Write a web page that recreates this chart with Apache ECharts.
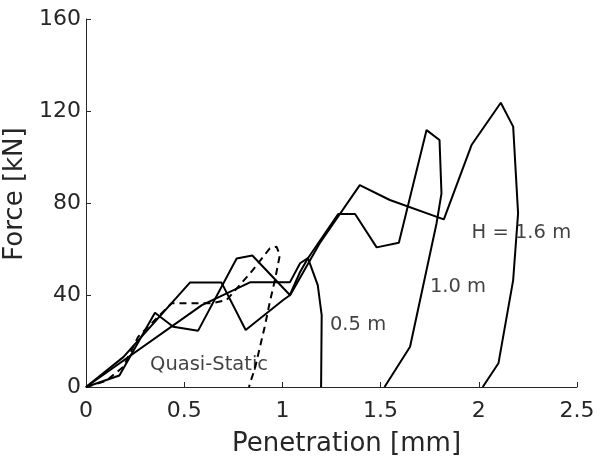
<!DOCTYPE html>
<html>
<head>
<meta charset="utf-8">
<script src="https://cdn.jsdelivr.net/npm/echarts@6/dist/echarts.min.js"></script>
<style>html,body{margin:0;padding:0;background:#fff;}#c{width:601px;height:459px;}</style>
</head>
<body>
<div id="c"></div>
<script>
// X ticks / Y ticks
const xTicks = [0, 0.5, 1, 1.5, 2, 2.5];
const yTicks = [0, 40, 80, 120, 160];

// Quasi-static (dashed)
const xQS = [0, 0.1, 0.19, 0.266, 0.436, 0.64, 0.716, 0.85, 0.936, 0.97, 0.987, 0.962, 0.936, 0.91, 0.894, 0.86, 0.835, 0.83];
const yQS = [0, 2.5, 8.8, 21.9, 36.4, 36.4, 37.8, 50.9, 60.3, 61, 57.4, 46.5, 37, 26.2, 20.4, 8, 1.6, 0];

// H = 0.5 m
const x05 = [0, 0.59, 0.835, 1.038, 1.09, 1.13, 1.18, 1.2, 1.197];
const y05 = [0, 35.6, 45.5, 45.5, 53.8, 56, 44.3, 31.3, 0];

// H = 1.0 m
const x10 = [0, 0.17, 0.351, 0.444, 0.571, 0.767, 0.847, 1.038, 1.09, 1.13, 1.284, 1.37, 1.48, 1.593, 1.734, 1.80, 1.81, 1.785, 1.65, 1.52];
const y10 = [0, 5, 32.3, 26.2, 24.5, 55.9, 57.2, 40, 50, 56, 75.2, 75.2, 60.7, 62.7, 111.7, 107.4, 84.2, 71.2, 17.5, 0];

// H = 1.6 m
const x16 = [0, 0.19, 0.529, 0.69, 0.813, 1.004, 1.04, 1.19, 1.394, 1.547, 1.822, 1.963, 2.112, 2.175, 2.2, 2.175, 2.1, 2.02];
const y16 = [0, 13, 45.4, 45.4, 24.8, 37.8, 40, 62.5, 87.8, 81.3, 72.9, 105.2, 123.6, 113.2, 75.5, 46.5, 10.3, 0];

// Annotations
const labelTexts = ['Quasi-Static', '0.5 m', '1.0 m', 'H = 1.6 m'];
const labelX = [0.326, 1.242, 1.751, 1.963];
const labelY = [9.6, 27, 43.5, 67];

const zip = (xs, ys) => xs.map((x, i) => [x, ys[i]]);
const txt = '#262626';
const font = 'DejaVu Sans';

const lineSeries = (xs, ys, dashed) => ({
  type: 'line', data: zip(xs, ys), symbol: 'none', silent: true, clip: false,
  lineStyle: { color: '#000', width: 2, type: dashed ? [7, 5] : 'solid' }
});

const chart = echarts.init(document.getElementById('c'), null, { renderer: 'canvas' });
chart.setOption({
  animation: false,
  backgroundColor: '#fff',
  grid: { left: 86, right: 24, top: 19, bottom: 72, containLabel: false, outerBoundsMode: 'none' },
  xAxis: {
    type: 'value', min: xTicks[0], max: xTicks[xTicks.length - 1], interval: 0.5,
    name: 'Penetration [mm]', nameLocation: 'middle', nameGap: 44,
    nameTextStyle: { fontFamily: font, fontSize: 26, color: txt, padding: [0, 0, 0, 30] },
    axisLine: { show: true, onZero: false, lineStyle: { color: txt, width: 1 } },
    axisTick: { show: true, inside: true, length: 5, lineStyle: { color: txt } },
    axisLabel: { fontFamily: font, fontSize: 22, color: txt, margin: 13, formatter: v => String(v) },
    splitLine: { show: false }
  },
  yAxis: {
    type: 'value', min: yTicks[0], max: yTicks[yTicks.length - 1], interval: 40,
    name: 'Force [kN]', nameLocation: 'middle', nameGap: 46,
    nameTextStyle: { fontFamily: font, fontSize: 26, color: txt, padding: [0, 0, 0, 18] },
    axisLine: { show: true, onZero: false, lineStyle: { color: txt, width: 1 } },
    axisTick: { show: true, inside: true, length: 5, lineStyle: { color: txt } },
    axisLabel: { fontFamily: font, fontSize: 22, color: txt, margin: 5 },
    splitLine: { show: false }
  },
  series: [
    lineSeries(xQS, yQS, true),
    lineSeries(x05, y05, false),
    lineSeries(x10, y10, false),
    lineSeries(x16, y16, false),
    {
      type: 'scatter', symbolSize: 0, silent: true,
      data: labelTexts.map((t, i) => ({ value: [labelX[i], labelY[i]], name: t })),
      label: {
        show: true, position: [0, 0], align: 'left', verticalAlign: 'middle',
        formatter: p => p.name, fontFamily: font, fontSize: 19.5, color: '#111'
      }
    }
  ]
});
</script>
</body>
</html>
